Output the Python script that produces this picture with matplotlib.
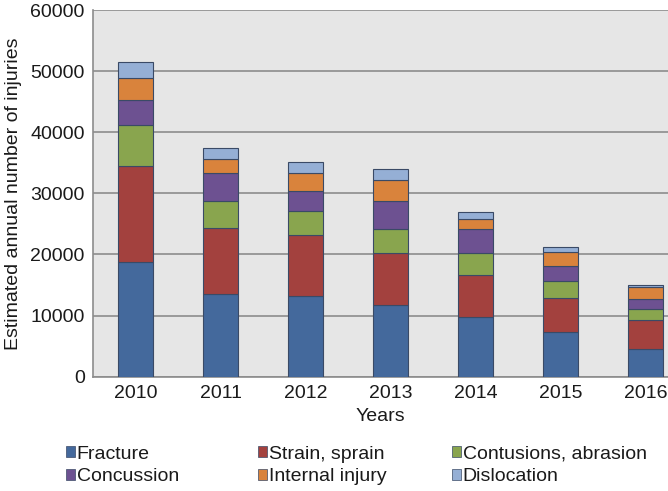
import matplotlib
matplotlib.use('Agg')
import matplotlib.pyplot as plt
import numpy as np

plt.rcParams['font.family'] = ['Liberation Sans', 'DejaVu Sans']

years = ['2010', '2011', '2012', '2013', '2014', '2015', '2016']
fracture = [18700, 13600, 13150, 11750, 9750, 7250, 4550]
strain = [15800, 10750, 10050, 8450, 6900, 5700, 4700]
contusions = [6650, 4400, 3950, 3950, 3550, 2700, 1750]
concussion = [4100, 4650, 3300, 4600, 3950, 2500, 1750]
internal = [3700, 2300, 2850, 3400, 1650, 2200, 1900]
dislocation = [2500, 1650, 1850, 1900, 1200, 850, 400]

series = [('Fracture', fracture, '#44699c'),
          ('Strain, sprain', strain, '#a3413e'),
          ('Contusions, abrasion', contusions, '#89a54e'),
          ('Concussion', concussion, '#6d5191'),
          ('Internal injury', internal, '#d9833c'),
          ('Dislocation', dislocation, '#95afd5')]

fig = plt.figure(figsize=(6.68, 4.91), dpi=100)
ax = fig.add_axes([93/668, 1-376.7/491, 575/668, 366.7/491])
ax.set_facecolor('#e6e6e6')

x = np.arange(len(years))
bottom = np.zeros(len(years))
handles = []
for name, vals, col in series:
    h = ax.bar(x, vals, 0.41, bottom=bottom, color=col, edgecolor='#3a4a66',
               linewidth=0.8, label=name, zorder=3)
    handles.append(h)
    bottom += np.array(vals)

ax.set_ylim(0, 60000)
ax.set_xlim(-0.5, 6.26)
ax.set_yticks(range(0, 60001, 10000))
ax.set_xticks(x)
ax.set_xticklabels(years)
ax.yaxis.grid(True, color='#8c8c8c', linewidth=1.2, zorder=1)
ax.tick_params(length=0, labelsize=14, colors='#1a1a1a', pad=6)
for s in ['top', 'right']:
    ax.spines[s].set_visible(False)
for s in ['left', 'bottom']:
    ax.spines[s].set_color('#8c8c8c')
    ax.spines[s].set_linewidth(1.2)

ax.set_ylabel('Estimated annual number of injuries', fontsize=14, color='#1a1a1a', labelpad=6)
ax.set_xlabel('Years', fontsize=14, color='#1a1a1a', labelpad=4)

# one legend per column, rows read left to right
col_x = [66, 258, 452]
for i, cx in enumerate(col_x):
    hs = [handles[i], handles[i + 3]]
    labs = [series[i][0], series[i + 3][0]]
    leg = fig.legend(hs, labs, loc='center left', bbox_to_anchor=(cx/668, 1-465.5/491),
                     frameon=False, fontsize=14, handlelength=0.45, handleheight=0.45,
                     handletextpad=0.1, labelspacing=0.3, borderpad=0, borderaxespad=0)
    for t in leg.get_texts():
        t.set_color('#1a1a1a')
    for p in leg.get_patches():
        p.set_linewidth(0.5)

fig.savefig('out.png', dpi=100)
